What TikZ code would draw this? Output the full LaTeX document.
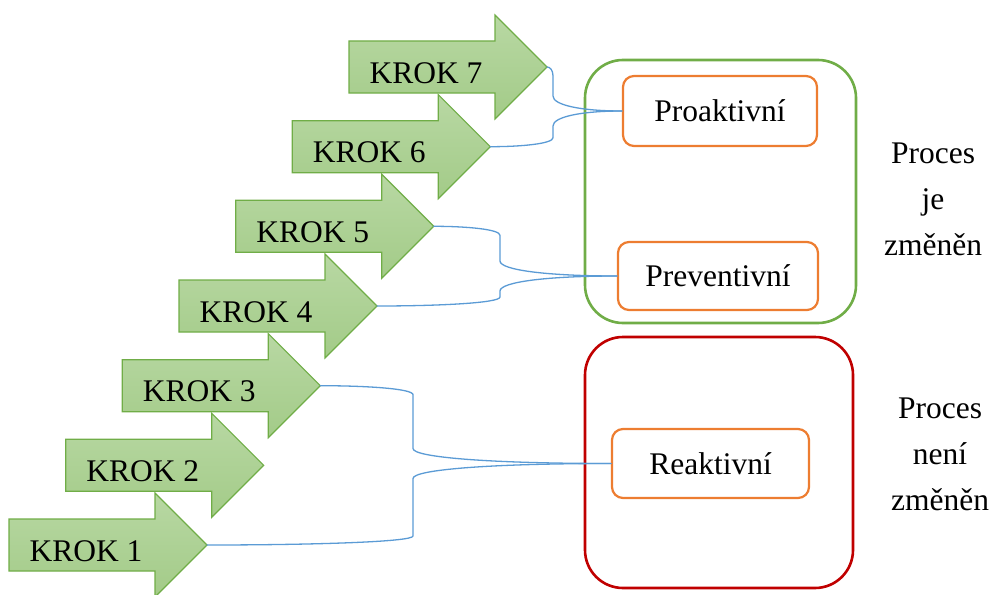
\documentclass[tikz,border=0pt]{standalone}
\usepackage{fontspec}
\setmainfont{LiberationSerif}[Extension=.ttf, UprightFont=*-Regular, BoldFont=*-Bold]
\usetikzlibrary{calc}

\definecolor{stepline}{RGB}{112,173,71}
\definecolor{steptop}{RGB}{184,216,163}
\definecolor{stepbottom}{RGB}{163,203,136}
\definecolor{groupgreen}{RGB}{112,173,71}
\definecolor{groupred}{RGB}{192,0,0}
\definecolor{kindorange}{RGB}{237,125,49}
\definecolor{linkblue}{RGB}{91,155,213}

\tikzset{
  every node/.style={font=\rmfamily\fontsize{31.5}{46}\selectfont},
  stepshape/.style={draw=stepline, line width=1.2pt, top color=steptop, bottom color=stepbottom, line join=miter},
  steplabel/.style={anchor=base, inner sep=0pt},
  groupbox/.style={draw, line width=2.6pt, rounded corners=38pt, inner sep=0pt},
  kindbox/.style={draw=kindorange, fill=white, line width=2.2pt, rounded corners=11pt, inner sep=0pt},
  sidelabel/.style={align=center, inner sep=0pt},
  link/.style={draw=linkblue, line width=1.3pt, line cap=round},
  % elbow connector: gentle run out of the start, vertical leg at x=#1,
  % long flattening run into the target
  elbow/.style={to path={let \p1=(\tikztostart), \p2=(\tikztotarget),
      \n1={sign(\y2-\y1)} in
      .. controls ({0.5*\x1+0.5*#1}, \y1) and (#1, {\y1+\n1*3pt}) .. (#1, {\y1+\n1*9pt})
      -- (#1, {\y2-\n1*15pt})
      .. controls (#1, {\y2-\n1*6pt}) and ({#1+0.4*(\x2-#1)}, \y2) .. (\tikztotarget)}}
}

\begin{document}
\begin{tikzpicture}[x=1pt, y=-1pt]
\useasboundingbox (0,0) rectangle (992,594);

% the seven steps, drawn from the top one down
\foreach \i/\tx/\ty in {7/547/67, 6/490.3/146.7, 5/433.7/226.3, 4/377/306,
                        3/320.3/385.7, 2/263.7/465.3, 1/207/545} {
  \coordinate (k\i) at (\tx,\ty);
  \draw[stepshape] (k\i) -- ++(-52,-52) -- ++(0,26) -- ++(-146,0) -- ++(0,52)
        -- ++(146,0) -- ++(0,26) -- cycle;
  \node[steplabel] (k\i l) at ($(k\i)+(-121,16)$) {KROK \i};
}

% process groups
\node[groupbox, draw=groupgreen, minimum width=271pt, minimum height=263pt] (changed) at (720.5,191.5) {};
\node[groupbox, draw=groupred, minimum width=268pt, minimum height=251pt] (unchanged) at (719,462.5) {};

% kinds of maintenance
\node[kindbox, minimum width=194pt, minimum height=70pt] (pro) at (720,111) {Proaktivní};
\node[kindbox, minimum width=200pt, minimum height=68pt] (pre) at (718,276) {Preventivní};
\node[kindbox, minimum width=197pt, minimum height=69pt] (rea) at (710.5,463.5) {Reaktivní};

% side captions
\node[sidelabel] (capchanged) at (933,199) {Proces\\je\\změněn};
\node[sidelabel] (capunchanged) at (940,454) {Proces\\není\\změněn};

% links from the steps to the kinds
\draw[link] (k7) to[elbow=553pt] (pro.west);
\draw[link] (k6) to[elbow=553pt] (pro.west);
\draw[link] (k5) to[elbow=500pt] (pre.west);
\draw[link] (k4) to[elbow=500pt] (pre.west);
\draw[link] (k3) to[elbow=413pt] (rea.west);
\draw[link] (k1) to[elbow=413pt] (rea.west);
\end{tikzpicture}
\end{document}
